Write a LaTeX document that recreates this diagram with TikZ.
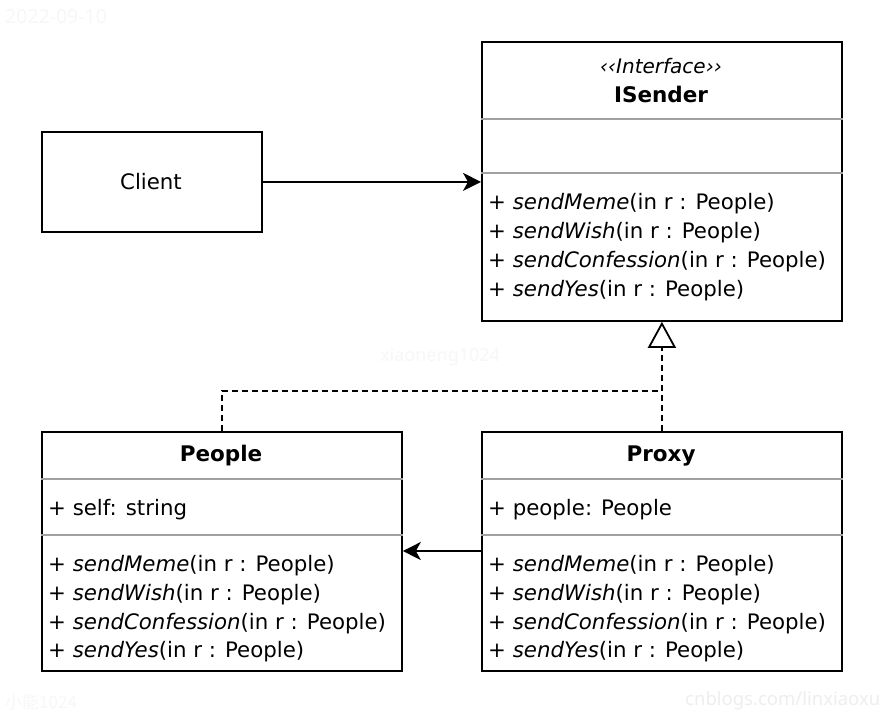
\documentclass[tikz,border=0pt]{standalone}
\usepackage{fontspec}
\setmainfont{DejaVu Sans}
\newfontfamily\wmfont{Noto Sans}
\newfontfamily\cjkfont{Noto Sans CJK SC}
\usetikzlibrary{arrows.meta}
\definecolor{sepgray}{HTML}{A0A0A0}
\definecolor{wmA}{HTML}{F7F7F7}
\definecolor{wmB}{HTML}{EEEEEE}
\begin{document}
\begin{tikzpicture}[x=1pt,y=-1pt,
  box/.style={draw=black, line width=1.8pt, anchor=north west, inner sep=0pt},
  sep/.style={draw=sepgray, line width=1.4pt},
  txt/.style={anchor=west, inner sep=0pt, yshift=-2pt, font=\fontsize{21.3}{24}\selectfont},
  ttl/.style={anchor=center, inner sep=0pt, yshift=-1pt, font=\fontsize{21.5}{24}\selectfont\bfseries},
  wm/.style={inner sep=0pt, anchor=west},
  conn/.style={line width=1.8pt},
  assoc/.style={conn, -{Stealth[length=18pt, width=18pt, inset=5pt]}},
  realize/.style={conn, dash pattern=on 6pt off 4pt, -{Triangle[open, length=26pt, width=28pt, line width=1.8pt]}}
]
\useasboundingbox (0,0) rectangle (882,712);
\fill[white] (0,0) rectangle (882,712);

% watermarks
\node[wm, text=wmA, font=\wmfont\fontsize{19.5}{21}\selectfont] (wmdate) at (5,17) {2022-09-10};
\node[wm, text=wmA, font=\wmfont\fontsize{18}{20}\selectfont] (wmname) at (380,357) {xiaoneng1024};
\node[wm, text=wmA, font=\cjkfont\fontsize{17}{19}\selectfont] (wmcn) at (5,702) {小能1024};
\node[wm, text=wmB, font=\wmfont\fontsize{18.5}{20}\selectfont] (wmblog) at (685,701) {cnblogs.com/linxiaoxu};

% boxes
\node[box, minimum width=360pt, minimum height=279pt] (isender) at (481,41) {};
\node[box, minimum width=220pt, minimum height=100pt] (client) at (41,131) {};
\node[box, minimum width=360pt, minimum height=239pt] (people) at (41,431) {};
\node[box, minimum width=360pt, minimum height=239pt] (proxy) at (481,431) {};

% separators
\draw[sep] ([yshift=-78pt]isender.north west) -- ([yshift=-78pt]isender.north east);
\draw[sep] ([yshift=-132pt]isender.north west) -- ([yshift=-132pt]isender.north east);
\draw[sep] ([yshift=-48pt]people.north west) -- ([yshift=-48pt]people.north east);
\draw[sep] ([yshift=-104pt]people.north west) -- ([yshift=-104pt]people.north east);
\draw[sep] ([yshift=-48pt]proxy.north west) -- ([yshift=-48pt]proxy.north east);
\draw[sep] ([yshift=-104pt]proxy.north west) -- ([yshift=-104pt]proxy.north east);

% ISender texts
\node[anchor=center, inner sep=0pt, font=\fontsize{20}{22}\selectfont\itshape] (stereo) at (661,66) {‹‹Interface››};
\node[ttl] (isname) at (661,93) {ISender};
\node[txt] (im1) at (488,202) {+ \textit{sendMeme}(in r : People)};
\node[txt] (im2) at (488,231) {+ \textit{sendWish}(in r : People)};
\node[txt] (im3) at (488,260) {+ \textit{sendConfession}(in r : People)};
\node[txt] (im4) at (488,289) {+ \textit{sendYes}(in r : People)};

% Client
\node[anchor=center, inner sep=0pt, yshift=-1pt, font=\fontsize{21.3}{24}\selectfont] (clname) at (151,181) {Client};

% People
\node[ttl] (pename) at (221,455) {People};
\node[txt] (pea1) at (48,508) {+ self: string};
\node[txt] (pem1) at (48,564) {+ \textit{sendMeme}(in r : People)};
\node[txt] (pem2) at (48,593) {+ \textit{sendWish}(in r : People)};
\node[txt] (pem3) at (48,622) {+ \textit{sendConfession}(in r : People)};
\node[txt] (pem4) at (48,650) {+ \textit{sendYes}(in r : People)};

% Proxy
\node[ttl] (prname) at (661,455) {Proxy};
\node[txt] (pra1) at (488,508) {+ people: People};
\node[txt] (prm1) at (488,564) {+ \textit{sendMeme}(in r : People)};
\node[txt] (prm2) at (488,593) {+ \textit{sendWish}(in r : People)};
\node[txt] (prm3) at (488,622) {+ \textit{sendConfession}(in r : People)};
\node[txt] (prm4) at (488,650) {+ \textit{sendYes}(in r : People)};

% connectors
\draw[assoc] (client.east) -- (client.east -| isender.west);
\draw[assoc] ([yshift=-120pt]proxy.north west) -- ([yshift=-120pt]people.north east);
\coordinate (joint) at (661,391);
\draw[conn, dash pattern=on 6pt off 4pt] (people.north) |- (joint);
\draw[realize] (proxy.north) -- (isender.south);
\end{tikzpicture}
\end{document}
